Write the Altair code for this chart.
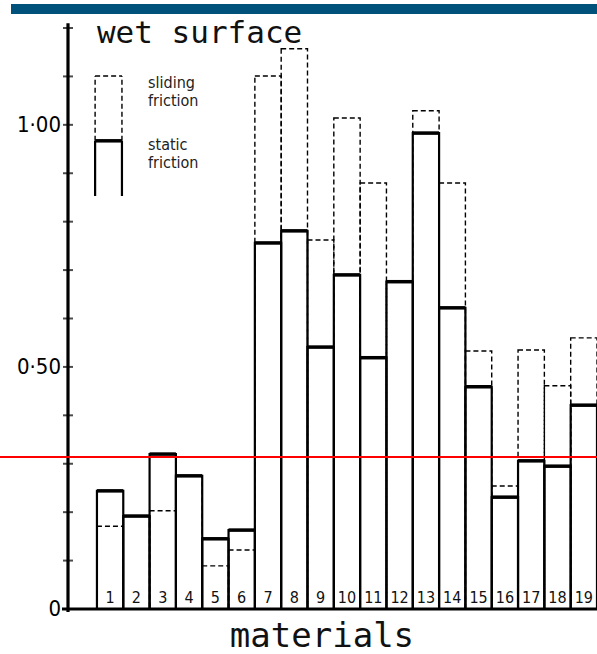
import altair as alt
import pandas as pd

# ---- data ----
materials = [str(i) for i in range(1, 20)]
static_friction = [0.244, 0.192, 0.320, 0.275, 0.145, 0.163, 0.756, 0.781, 0.541, 0.690,
                   0.519, 0.676, 0.983, 0.622, 0.459, 0.231, 0.306, 0.295, 0.421]
sliding_friction = [0.171, 0.192, 0.203, 0.275, 0.089, 0.122, 1.101, 1.157, 0.762, 1.014,
                    0.880, 0.676, 1.029, 0.880, 0.533, 0.254, 0.535, 0.461, 0.560]
reference_level = [0.314]
y_tick_values = [0.0, 0.1, 0.2, 0.3, 0.4, 0.5, 0.6, 0.7, 0.8, 0.9, 1.0, 1.1, 1.2]
y_label_values = [0.0, 0.5, 1.0]
y_label_texts = ["0", "0\u00b750", "1\u00b700"]
title_text = "wet surface"
x_title_text = "materials"
legend_labels = ["sliding", "friction", "static", "friction"]

df = pd.DataFrame({"material": materials, "static": static_friction, "sliding": sliding_friction})
df["idx"] = range(1, len(materials) + 1)
df["left"] = df["idx"] - 0.5
df["right"] = df["idx"] + 0.5
df["zero"] = 0.0

W, H = 529, 581
xs = alt.Scale(domain=[-0.6, 19.5], nice=False, zero=False)
ys = alt.Scale(domain=[0, 1.2], nice=False, zero=False)
NARROW = "Liberation Sans Narrow, DejaVu Sans Condensed, DejaVu Sans"
MONO = "DejaVu Sans Mono"

base = alt.Chart(df)

bars = base.mark_bar(fill="white", stroke=None).encode(
    x=alt.X("left:Q", scale=xs, axis=None), x2="right:Q",
    y=alt.Y("static:Q", scale=ys, axis=None), y2="zero:Q",
)

# sliding friction: dashed outline
sliding = base.mark_rect(fill=None, stroke="black", strokeWidth=1.4, strokeDash=[5, 3]).encode(
    x=alt.X("left:Q", scale=xs, axis=None), x2="right:Q",
    y=alt.Y("sliding:Q", scale=ys, axis=None), y2="zero:Q",
)

# static friction: solid outline on top
static_outline = base.mark_rect(fill=None, stroke="black", strokeWidth=2.2).encode(
    x=alt.X("left:Q", scale=xs, axis=None), x2="right:Q",
    y=alt.Y("static:Q", scale=ys, axis=None), y2="zero:Q",
)
static_top = base.mark_rule(color="black", strokeWidth=3.5).encode(
    x=alt.X("left:Q", scale=xs, axis=None), x2="right:Q",
    y=alt.Y("static:Q", scale=ys, axis=None),
)

numbers = base.mark_text(baseline="bottom", dy=-3, font=NARROW, fontSize=16, color="#111").encode(
    x=alt.X("idx:Q", scale=xs, axis=None),
    y=alt.Y("zero:Q", scale=ys, axis=None),
    text="material:N",
)

# axes drawn as marks
y_axis_line = alt.Chart(pd.DataFrame({"y0": [-0.006], "y1": [1.21]})).mark_rule(
    color="black", strokeWidth=3.2).encode(
    x=alt.value(0), y=alt.Y("y0:Q", scale=ys, axis=None), y2="y1:Q")
x_axis_line = alt.Chart(pd.DataFrame({"y": [0.0]})).mark_rule(
    color="black", strokeWidth=3.2).encode(
    x=alt.value(-6), x2=alt.value(W), y=alt.Y("y:Q", scale=ys, axis=None))

ticks = alt.Chart(pd.DataFrame({"t": y_tick_values})).mark_tick(
    orient="horizontal", size=10, thickness=2, color="black").encode(
    x=alt.value(0),
    y=alt.Y("t:Q", scale=ys, axis=None),
)
y_labels = alt.Chart(pd.DataFrame({"v": y_label_values, "lab": y_label_texts})).mark_text(
    align="right", baseline="middle", font=NARROW, fontSize=22, color="black").encode(
    x=alt.value(-7),
    y=alt.Y("v:Q", scale=ys, axis=None),
    text="lab:N",
)

# legend glyph
leg_solid = pd.DataFrame({"x": [0.43, 1.45, 0.43], "x2": [0.43, 1.45, 1.45],
                          "y": [0.853, 0.853, 0.967], "y2": [0.967, 0.967, 0.967],
                          "w": [2.2, 2.2, 3.5]})
leg_dash = pd.DataFrame({"x": [0.43, 1.45, 0.43], "x2": [0.43, 1.45, 1.45],
                         "y": [0.967, 0.967, 1.101], "y2": [1.101, 1.101, 1.101]})
legend_solid = alt.Chart(leg_solid).mark_rule(color="black").encode(
    x=alt.X("x:Q", scale=xs, axis=None), x2="x2:Q",
    y=alt.Y("y:Q", scale=ys, axis=None), y2="y2:Q",
    strokeWidth=alt.StrokeWidth("w:Q", scale=None, legend=None),
)
legend_dash = alt.Chart(leg_dash).mark_rule(color="black", strokeWidth=1.4, strokeDash=[5, 3]).encode(
    x=alt.X("x:Q", scale=xs, axis=None), x2="x2:Q",
    y=alt.Y("y:Q", scale=ys, axis=None), y2="y2:Q",
)
leg_text = pd.DataFrame({"label": legend_labels, "x": [2.44] * 4,
                         "y": [1.087, 1.050, 0.959, 0.921]})
legend_text = alt.Chart(leg_text).mark_text(align="left", baseline="middle", font=NARROW,
                                            fontSize=16, color="#222").encode(
    x=alt.X("x:Q", scale=xs, axis=None),
    y=alt.Y("y:Q", scale=ys, axis=None),
    text="label:N",
)

title = alt.Chart(pd.DataFrame({"t": [title_text], "x": [0.50], "y": [1.169]})).mark_text(
    align="left", baseline="alphabetic", font=MONO, fontSize=31, color="#111").encode(
    x=alt.X("x:Q", scale=xs, axis=None), y=alt.Y("y:Q", scale=ys, axis=None), text="t:N")

xtitle = alt.Chart(pd.DataFrame({"t": [x_title_text], "x": [5.55], "y": [-0.0785]})).mark_text(
    align="left", baseline="alphabetic", font=MONO, fontSize=34, color="#111").encode(
    x=alt.X("x:Q", scale=xs, axis=None), y=alt.Y("y:Q", scale=ys, axis=None), text="t:N")

red_line = alt.Chart(pd.DataFrame({"r": reference_level})).mark_rule(
    color="#ff0000", strokeWidth=2).encode(
    x=alt.value(-68), x2=alt.value(W),
    y=alt.Y("r:Q", scale=ys, axis=None),
)

band = alt.Chart(pd.DataFrame({"a": [0]})).mark_rect(color="#01527a").encode(
    x=alt.value(-57), x2=alt.value(W), y=alt.value(-24), y2=alt.value(-14))

chart = alt.layer(
    bars, sliding, static_outline, static_top, numbers,
    y_axis_line, x_axis_line, ticks, y_labels,
    legend_dash, legend_solid, legend_text, title, xtitle, red_line, band,
).properties(
    width=W, height=H,
    autosize=alt.AutoSizeParams(type="none"),
    padding={"left": 68, "top": 28, "right": 0, "bottom": 45},
    background="white",
).configure_view(stroke=None)

chart.save("out.html", embed_options={"renderer": "svg", "actions": False})
